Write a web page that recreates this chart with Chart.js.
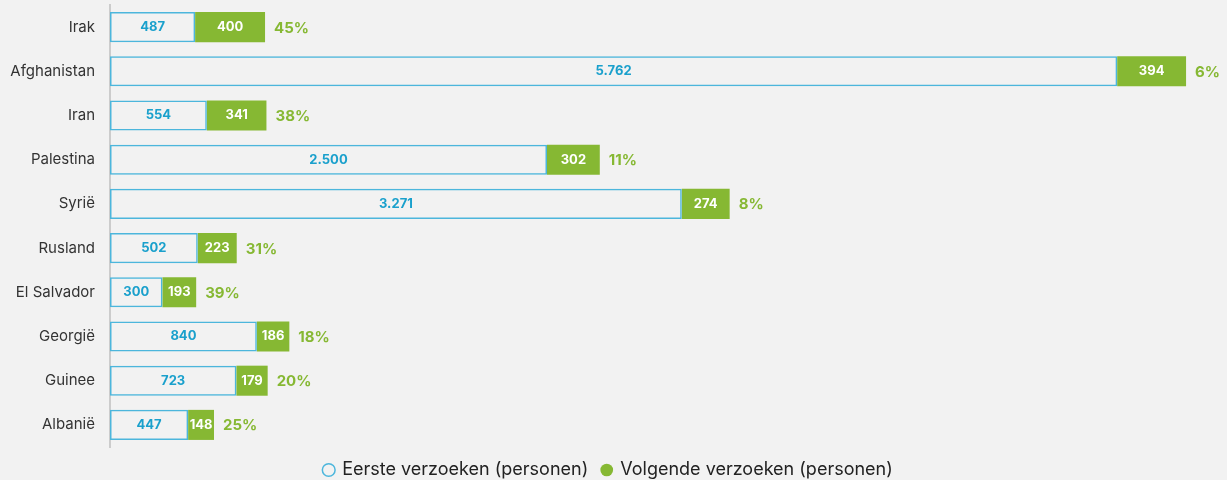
<!DOCTYPE html>
<html>
<head>
<meta charset="utf-8">
<script src="https://cdn.jsdelivr.net/npm/chart.js@4"></script>
<style>
  html, body { margin: 0; padding: 0; background: #f2f2f2; }
  #wrap { width: 1227px; height: 480px; }
</style>
</head>
<body>
<div id="wrap"><canvas id="chart"></canvas></div>
<script>
const countries = ['Irak', 'Afghanistan', 'Iran', 'Palestina', 'Syrië', 'Rusland', 'El Salvador', 'Georgië', 'Guinee', 'Albanië'];
const eerste = [487, 5762, 554, 2500, 3271, 502, 300, 840, 723, 447];
const volgende = [400, 394, 341, 302, 274, 223, 193, 186, 179, 148];

const BLUE = '#1aa0cc';
const BLUE_LINE = '#4cb6dc';
const GREEN = '#86b833';

const fmt = (v) => v.toLocaleString('nl-NL');

// labels inside segments + percentage at the end of each row
const barLabels = {
    id: 'barLabels',
    afterDatasetsDraw(chart) {
        const ctx = chart.ctx;
        const m0 = chart.getDatasetMeta(0);
        const m1 = chart.getDatasetMeta(1);
        ctx.save();
        ctx.textBaseline = 'middle';
        m0.data.forEach((bar, i) => {
            ctx.font = 'bold 13px Inter';
            ctx.textAlign = 'center';
            ctx.fillStyle = BLUE;
            ctx.fillText(fmt(eerste[i]), (bar.base + bar.x) / 2, bar.y);
            const b1 = m1.data[i];
            ctx.fillStyle = '#ffffff';
            ctx.fillText(fmt(volgende[i]), (b1.base + b1.x) / 2, b1.y);
            const pct = Math.round(volgende[i] / (eerste[i] + volgende[i]) * 100);
            ctx.textAlign = 'left';
            ctx.fillStyle = GREEN;
            ctx.font = 'bold 15px Inter';
            ctx.fillText(pct + '%', b1.x + 9, b1.y + 1);
        });
        ctx.restore();
    }
};

new Chart(document.getElementById('chart'), {
    type: 'bar',
    data: {
        labels: countries,
        datasets: [{
            label: 'Eerste verzoeken (personen)',
            data: eerste,
            backgroundColor: 'rgba(0,0,0,0)',
            borderColor: BLUE_LINE,
            borderWidth: 1.5,
            borderSkipped: false,
            barPercentage: 0.68,
            categoryPercentage: 1
        }, {
            label: 'Volgende verzoeken (personen)',
            data: volgende,
            backgroundColor: GREEN,
            borderColor: GREEN,
            borderWidth: 0,
            barPercentage: 0.68,
            categoryPercentage: 1
        }]
    },
    options: {
        indexAxis: 'y',
        responsive: true,
        maintainAspectRatio: false,
        animation: false,
        layout: { padding: { top: 5, right: 10, bottom: -9, left: 0 } },
        scales: {
            x: {
                stacked: true,
                display: false,
                min: 0,
                max: 6333
            },
            y: {
                stacked: true,
                grid: { display: false },
                border: { display: true, color: '#cccccc', width: 2 },
                ticks: { color: '#333333', font: { family: 'Inter', size: 15 }, padding: 7 },
                afterFit: (scale) => {
                    scale.width = 110;
                    scale.paddingTop = 0;
                    scale.paddingBottom = 0;
                }
            }
        },
        plugins: {
            legend: {
                position: 'bottom',
                labels: {
                    usePointStyle: true,
                    pointStyle: 'circle',
                    boxWidth: 9,
                    boxHeight: 9,
                    color: '#222222',
                    font: { family: 'Inter', size: 18 },
                    padding: 14
                }
            },
            tooltip: { enabled: false }
        }
    },
    plugins: [barLabels]
});
</script>
</body>
</html>
